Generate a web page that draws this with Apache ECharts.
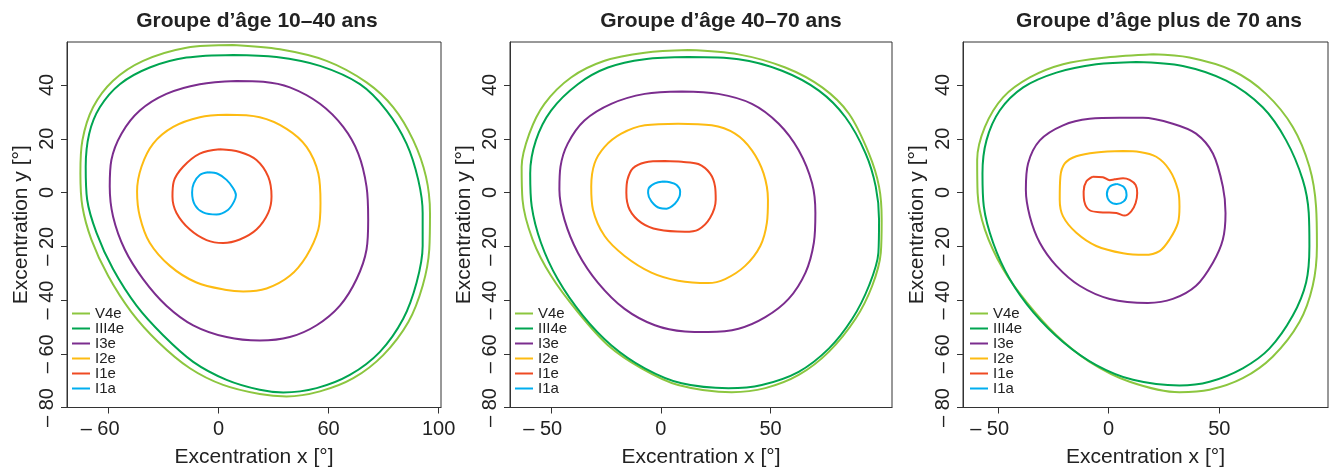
<!DOCTYPE html>
<html>
<head>
<meta charset="utf-8">
<script src="https://cdn.jsdelivr.net/npm/echarts@6/dist/echarts.min.js"></script>
<style>
  html, body { margin: 0; padding: 0; background: #fff; }
  #main { width: 1331px; height: 468px; }
</style>
</head>
<body>
<div id="main"></div>
<script>
// isopters, outer to inner
var isoNames = ['V4e', 'III4e', 'I3e', 'I2e', 'I1e', 'I1a'];
var panelTitles = ['Groupe d\u2019\u00e2ge 10\u201340 ans', 'Groupe d\u2019\u00e2ge 40\u201370 ans', 'Groupe d\u2019\u00e2ge plus de 70 ans'];

// tick values and the labels printed at them
var xTicks1 = [-60, 0, 60, 120];
var xTickLabels1 = ['\u2013 60', '0', '60', '100'];
var xTicks2 = [-50, 0, 50];
var xTickLabels2 = ['\u2013 50', '0', '50'];
var xTicks3 = [-50, 0, 50];
var xTickLabels3 = ['\u2013 50', '0', '50'];
var yTicks = [-80, -60, -40, -20, 0, 20, 40];
var yTickLabels = ['\u2013 80', '\u2013 60', '\u2013 40', '\u2013 20', '0', '20', '40'];

// panel 1 : 10-40 ans
var p1V4e = [[8.0,54.9],[-17.5,53.9],[-41.1,49.0],[-57.5,41.6],[-68.4,31.7],[-74.2,19.4],[-75.3,7.1],[-74.2,-5.2],[-69.3,-17.5],[-60.2,-31.0],[-47.5,-44.5],[-32.9,-55.6],[-15.6,-65.4],[2.5,-71.6],[22.5,-75.0],[37.1,-75.9],[55.3,-74.0],[73.5,-69.1],[89.8,-60.5],[103.5,-48.2],[111.3,-34.7],[114.9,-21.2],[115.3,-7.6],[113.1,5.9],[106.2,19.4],[95.3,31.7],[80.7,41.0],[58.9,49.0],[33.5,53.3]];
var p1III4e = [[8.0,51.2],[-17.5,50.2],[-37.5,46.5],[-53.8,40.3],[-64.7,31.7],[-70.5,21.9],[-72.4,9.6],[-71.6,-2.7],[-66.5,-15.0],[-57.5,-28.5],[-44.7,-42.1],[-30.2,-53.1],[-13.8,-63.0],[4.4,-69.7],[22.5,-73.4],[35.3,-74.4],[53.5,-72.8],[71.6,-67.9],[88.0,-59.3],[100.7,-47.0],[108.0,-33.5],[111.3,-19.9],[111.3,-7.6],[108.9,4.7],[102.5,18.2],[91.6,30.5],[77.1,40.3],[55.3,47.1],[31.6,50.4]];
var p1I3e = [[9.8,41.5],[-10.2,40.3],[-28.4,36.7],[-42.9,30.5],[-52.9,21.9],[-58.4,12.1],[-59.3,2.2],[-57.5,-8.9],[-51.1,-21.2],[-41.1,-32.2],[-28.4,-42.1],[-13.8,-49.4],[4.4,-53.8],[22.5,-55.1],[38.9,-53.8],[53.5,-49.4],[66.2,-42.1],[75.3,-32.2],[80.7,-21.2],[81.6,-10.1],[80.7,2.2],[76.2,14.5],[68.0,24.4],[55.3,33.0],[38.9,39.1],[24.4,41.2]];
var p1I2e = [[4.4,28.9],[-10.2,28.0],[-24.7,24.4],[-35.6,18.2],[-42.0,9.6],[-44.4,0.4],[-42.9,-8.9],[-37.5,-18.7],[-26.5,-27.3],[-12.0,-33.5],[4.4,-36.3],[13.5,-36.8],[26.2,-35.7],[38.9,-31.0],[48.0,-23.6],[54.4,-13.8],[55.6,-3.9],[54.4,7.1],[48.0,17.0],[37.1,23.7],[22.5,28.0]];
var p1I1e = [[0.7,16.1],[-10.2,14.5],[-19.3,9.6],[-24.4,4.1],[-25.1,-1.5],[-22.9,-7.6],[-15.6,-13.8],[-6.5,-17.7],[2.5,-18.8],[11.6,-17.5],[20.7,-13.8],[27.1,-7.6],[28.9,-1.5],[27.1,5.9],[20.7,12.1],[11.6,15.1]];
var p1I1a = [[-5.6,7.5],[-10.2,6.5],[-13.5,3.4],[-14.4,0],[-12.9,-4.6],[-8.4,-7.4],[-1.1,-8.2],[5.3,-6.4],[8.5,-3.3],[9.5,-0.9],[8.0,1.6],[4.4,4.7],[-0.2,6.9]];

// panel 2 : 40-70 ans
var p2V4e = [[12.5,53.0],[-7.3,52.0],[-25.6,49.0],[-40.9,42.8],[-53.0,33.0],[-59.9,21.9],[-63.4,9.6],[-63.0,-2.7],[-58.4,-17.5],[-50.0,-31.0],[-37.8,-44.5],[-24.1,-56.8],[-8.8,-65.4],[7.9,-71.6],[32.3,-74.3],[47.6,-72.8],[62.8,-67.9],[76.5,-59.3],[88.7,-47.0],[96.3,-34.7],[100.2,-22.4],[100.6,-10.1],[99.4,2.2],[94.8,14.5],[85.7,29.3],[73.5,39.1],[56.7,46.5],[35.4,51.4]];
var p2III4e = [[12.5,50.4],[-7.3,49.6],[-24.1,46.5],[-37.8,40.3],[-50.0,30.5],[-56.9,19.4],[-59.5,7.1],[-58.8,-5.2],[-54.6,-18.7],[-47.0,-32.2],[-35.5,-45.8],[-22.6,-56.8],[-7.3,-65.4],[9.5,-71.0],[30.8,-72.8],[46.0,-71.6],[62.8,-66.7],[76.5,-58.1],[87.2,-47.0],[94.8,-34.7],[99.1,-22.4],[99.4,-10.1],[97.9,2.2],[93.3,14.5],[84.1,28.0],[72.0,37.9],[55.2,45.3],[35.4,49.6]];
var p2I3e = [[9.5,37.6],[-7.3,36.7],[-22.6,33.0],[-34.8,26.8],[-42.4,18.2],[-45.7,9.6],[-46.2,1.0],[-43.9,-10.1],[-37.8,-22.4],[-28.7,-33.5],[-16.5,-43.3],[-2.7,-49.4],[11.0,-51.7],[21.6,-51.9],[35.4,-50.7],[47.6,-46.4],[58.2,-39.6],[65.9,-29.8],[69.7,-18.7],[70.4,-7.6],[68.9,3.4],[62.8,15.7],[53.7,25.6],[41.5,33.0],[26.2,36.7]];
var p2I2e = [[7.9,25.6],[-7.3,25.0],[-18.0,21.9],[-25.6,17.0],[-30.2,10.8],[-31.7,2.2],[-30.9,-6.4],[-25.6,-16.2],[-16.5,-23.6],[-4.3,-29.8],[7.9,-32.8],[21.6,-33.7],[29.3,-32.2],[38.4,-27.3],[45.3,-19.9],[48.3,-11.3],[48.8,-2.7],[46.8,7.1],[41.5,15.7],[33.8,21.9],[23.2,25.0]];
var p2I1e = [[1.8,11.7],[-7.3,11.2],[-12.7,9.0],[-15.2,4.7],[-15.7,-0.2],[-14.2,-6.4],[-8.8,-11.3],[-1.2,-13.8],[11.0,-14.6],[17.1,-13.8],[22.4,-9.5],[25.0,-2.7],[24.7,2.2],[22.4,7.1],[17.1,10.6],[9.5,11.4]];
var p2I1a = [[1.1,4.1],[-2.7,3.4],[-5.5,1.6],[-5.8,-0.2],[-4.3,-3.3],[-0.5,-5.8],[2.6,-6.0],[6.4,-4.2],[8.5,-1.5],[8.8,0.4],[7.2,2.8],[4.1,3.8]];

// panel 3 : plus de 70 ans
var p3V4e = [[20.0,51.4],[-1.1,50.2],[-20.6,47.7],[-35.6,42.8],[-47.7,35.4],[-55.9,24.4],[-59.4,12.1],[-59.2,-0.2],[-55.9,-13.8],[-47.7,-28.5],[-37.1,-40.8],[-23.6,-53.1],[-8.6,-63.0],[9.5,-70.4],[32.0,-74.3],[45.6,-73.4],[60.6,-69.1],[74.1,-61.1],[86.2,-48.2],[92.2,-34.7],[94.1,-19.9],[93.7,-5.2],[90.7,9.6],[83.2,24.4],[71.1,36.7],[56.1,45.3],[36.5,50.2]];
var p3III4e = [[12.5,48.6],[-5.6,47.7],[-23.6,44.6],[-38.6,39.1],[-49.2,30.5],[-55.2,19.4],[-57.0,7.1],[-56.4,-5.2],[-52.2,-18.7],[-44.7,-32.2],[-34.1,-44.5],[-20.6,-55.6],[-5.6,-64.2],[11.0,-69.7],[32.0,-71.8],[45.6,-70.4],[60.6,-65.4],[72.6,-58.1],[83.2,-45.8],[89.2,-33.5],[90.7,-19.9],[90.4,-7.6],[87.7,4.7],[80.2,19.4],[69.6,31.7],[53.1,41.6],[33.5,47.1]];
var p3I3e = [[5.0,27.8],[-8.6,27.4],[-20.6,25.0],[-31.1,19.4],[-36.4,10.8],[-37.4,1.0],[-35.6,-8.9],[-31.1,-18.7],[-23.6,-27.3],[-13.1,-34.7],[0.5,-39.6],[17.7,-41.1],[29.0,-39.6],[39.5,-34.7],[47.1,-26.1],[51.6,-17.5],[52.8,-7.6],[51.6,2.2],[47.1,14.5],[39.5,21.9],[29.0,25.6],[15.5,27.8]];
var p3I2e = [[6.5,15.4],[-5.6,14.9],[-14.6,13.5],[-19.8,10.8],[-21.8,5.9],[-22.1,-2.7],[-20.6,-8.9],[-14.6,-15.0],[-5.6,-19.9],[6.5,-22.6],[16.2,-23.2],[23.0,-21.8],[27.5,-17.5],[31.3,-11.3],[32.0,-5.2],[31.3,1.0],[27.5,8.4],[21.5,13.3],[14.0,15.1]];
var p3I1e = [[-7.1,5.9],[-10.1,4.1],[-11.3,0.4],[-11.0,-3.3],[-8.6,-6.6],[-2.6,-7.4],[3.5,-7.6],[7.2,-8.6],[10.2,-7.0],[12.2,-3.9],[12.9,-0.2],[12.2,2.8],[9.5,4.7],[6.5,5.3],[2.7,4.9],[0.5,4.6],[-2.6,5.7]];
var p3I1a = [[3.6,3.2],[0.5,2.2],[-0.8,-0.6],[0.5,-3.3],[3.6,-4.3],[6.8,-3.3],[8.1,-0.9],[6.9,2.0]];

var panelData = [
    [p1V4e, p1III4e, p1I3e, p1I2e, p1I1e, p1I1a],
    [p2V4e, p2III4e, p2I3e, p2I2e, p2I1e, p2I1a],
    [p3V4e, p3III4e, p3I3e, p3I2e, p3I1e, p3I1a]
];

// styling
var isoColors = ['#8cc63f', '#00a551', '#7b2d8e', '#fdbb12', '#ef4a23', '#00aeef'];
var font = '"Liberation Sans", Arial, Helvetica, sans-serif';
var ink = '#222';
var grids = [
    { left: 67, top: 42, width: 374, height: 365.5 },
    { left: 510, top: 42, width: 382, height: 365.5 },
    { left: 963, top: 42, width: 365, height: 365.5 }
];
var xRanges = [[-82.6, 121.3], [-68.7, 105.3], [-65.8, 99.1]];
var xTickSets = [[xTicks1, xTickLabels1], [xTicks2, xTickLabels2], [xTicks3, xTickLabels3]];
var titleCenters = [252, 716, 1154];
var legendLefts = [67, 510, 965];

// y labels: whole label centred on the tick
function labelFrom(values, labels) {
    return function (v) {
        var i = values.indexOf(v);
        return i >= 0 ? labels[i] : '';
    };
}
// x labels: digits centred on the tick, the minus hangs to the left
function xLabelFrom(values, labels) {
    return function (v) {
        var i = values.indexOf(v);
        if (i < 0) return '';
        var s = labels[i];
        return s.charAt(0) === '\u2013' ? s + '{h|\u2013 }' : s;
    };
}

var myChart = echarts.init(document.getElementById('main'));

var option = {
    backgroundColor: '#fff',
    animation: false,
    title: [],
    legend: [],
    grid: [],
    xAxis: [],
    yAxis: [],
    series: []
};

for (var p = 0; p < 3; p++) {
    option.grid.push({
        left: grids[p].left, top: grids[p].top, width: grids[p].width, height: grids[p].height,
        outerBoundsMode: 'none',
        containLabel: false,
        show: true, borderColor: '#333', borderWidth: 1
    });
    option.title.push({
        text: panelTitles[p],
        left: titleCenters[p],
        top: 6,
        textAlign: 'center',
        textStyle: { fontFamily: font, fontSize: 21, fontWeight: 'bold', color: ink }
    });
    option.legend.push({
        data: isoNames,
        orient: 'vertical',
        left: legendLefts[p],
        top: 301,
        icon: 'rect',
        itemWidth: 18,
        itemHeight: 2,
        itemGap: 0,
        selectedMode: false,
        textStyle: { fontFamily: font, fontSize: 15, color: ink, lineHeight: 15, padding: 0 }
    });
    var xt = xTickSets[p];
    option.xAxis.push({
        gridIndex: p,
        type: 'value',
        min: xRanges[p][0],
        max: xRanges[p][1],
        name: 'Excentration x [\u00b0]',
        nameLocation: 'middle',
        nameGap: 39,
        nameTextStyle: { fontFamily: font, fontSize: 21, color: ink },
        axisLine: { show: true, onZero: false, lineStyle: { color: '#333', width: 1 } },
        axisTick: { show: true, customValues: xt[0], length: 6, lineStyle: { color: '#333' } },
        axisLabel: {
            customValues: xt[0], formatter: xLabelFrom(xt[0], xt[1]),
            fontFamily: font, fontSize: 20, color: ink, margin: 12,
            rich: { h: { fontFamily: font, fontSize: 20, color: 'rgba(0,0,0,0)' } }
        },
        splitLine: { show: false }
    });
    option.yAxis.push({
        gridIndex: p,
        type: 'value',
        min: -80,
        max: 56,
        name: 'Excentration y [\u00b0]',
        nameLocation: 'middle',
        nameGap: 35,
        nameTextStyle: { fontFamily: font, fontSize: 21, color: ink },
        axisLine: { show: true, onZero: false, lineStyle: { color: '#333', width: 1 } },
        axisTick: { show: true, customValues: yTicks, length: 6, lineStyle: { color: '#333' } },
        axisLabel: { customValues: yTicks, formatter: labelFrom(yTicks, yTickLabels), rotate: 90, fontFamily: font, fontSize: 20, color: ink, margin: 10 },
        splitLine: { show: false }
    });
    for (var k = 0; k < isoNames.length; k++) {
        var pts = panelData[p][k];
        option.series.push({
            type: 'line',
            name: isoNames[k],
            xAxisIndex: p,
            yAxisIndex: p,
            data: pts.concat([pts[0]]),
            smooth: 0.33,
            showSymbol: false,
            symbol: 'none',
            color: isoColors[k],
            lineStyle: { width: 2, color: isoColors[k] }
        });
    }
}

myChart.setOption(option);

window.addEventListener('resize', function () {
    if (myChart != null) {
        myChart.resize();
    }
});
</script>
</body>
</html>
